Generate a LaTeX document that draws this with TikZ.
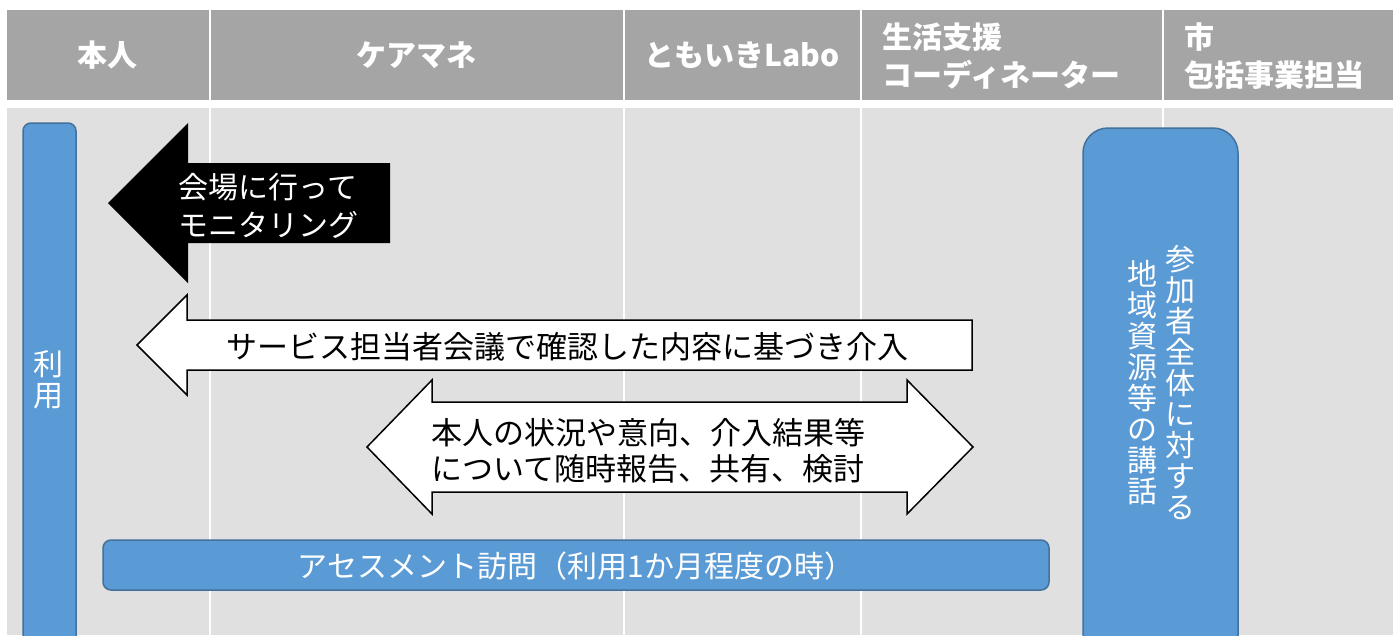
\documentclass[tikz,border=0pt]{standalone}
\usepackage{fontspec}
\setmainfont{Noto Sans CJK JP}
\definecolor{headgray}{HTML}{A5A5A5}
\definecolor{bodygray}{HTML}{E0E0E0}
\definecolor{boxblue}{HTML}{5B9BD5}
\definecolor{boxedge}{HTML}{41719C}
\tikzset{
  headtext/.style={text=white, inner sep=0pt, font=\bfseries\fontsize{30}{38}\selectfont},
  bluebox/.style={fill=boxblue, draw=boxedge, line width=1.5pt},
  arrowtext/.style={inner sep=0pt, font=\fontsize{31}{36}\selectfont},
  vtext/.style={text=white, align=center, inner sep=0pt, font=\fontsize{30}{31}\selectfont}
}

\begin{document}
\begin{tikzpicture}[x=1pt, y=-1pt]
\useasboundingbox (0,0) rectangle (1393,635);
\clip (0,0) rectangle (1393,635);

%Table
\fill[white] (0,0) rectangle (1393,635);
\fill[headgray] (7,10) rectangle (1393,100);
\fill[bodygray] (7,108) rectangle (1393,635);
\foreach \x in {210,624,861,1163}
  \fill[white] (\x-1,10) rectangle (\x+1,635);

%Column heads
\node[headtext] (self) at (107,55) {本人};
\node[headtext] (caremgr) at (416,55) {ケアマネ};
\node[headtext] (labo) at (742,55) {ともいきLabo};
\node[headtext, anchor=west, align=left] (coord) at (882,56) {生活支援\\コーディネーター};
\node[headtext, anchor=west, align=left] (city) at (1184,56) {市\\包括事業担当};

%Blue boxes
\draw[bluebox, rounded corners=8pt] (23,123) rectangle (76,670);
\node[vtext] (use) at (49,380) {利\\用};

\draw[bluebox, rounded corners=25pt] (1083,128) rectangle (1238,670);
\node[vtext] (talka) at (1180,383) {参\\加\\者\\全\\体\\に\\対\\す\\る};
\node[vtext] (talkb) at (1142,383) {地\\域\\資\\源\\等\\の\\講\\話};

\draw[bluebox, rounded corners=8pt] (103,540) rectangle (1049,590);
\node[text=white, inner sep=0pt, font=\fontsize{30}{34}\selectfont] (visit) at (576,566) {アセスメント訪問（利用1か月程度の時）};

%Block arrows
\fill[black] (108,203) -- (188,123) -- (188,163) -- (390,163) -- (390,243) -- (188,243) -- (188,283) -- cycle;
\node[arrowtext, text=white, align=center, font=\fontsize{30}{38}\selectfont] (monitor) at (268,206) {会場に行って\\モニタリング};

\draw[fill=white, line width=1.5pt] (137,345) -- (187,295) -- (187,320) -- (972,320) -- (972,370) -- (187,370) -- (187,395) -- cycle;
\node[arrowtext] (meeting) at (567,347) {サービス担当者会議で確認した内容に基づき介入};

\draw[fill=white, line width=1.5pt] (367,447) -- (432,380) -- (432,402) -- (907,402) -- (907,380) -- (973,447) -- (907,514) -- (907,492) -- (432,492) -- (432,514) -- cycle;
\node[arrowtext, anchor=west, align=left] (report) at (431,451) {本人の状況や意向、介入結果等\\について随時報告、共有、検討};

\end{tikzpicture}
\end{document}
